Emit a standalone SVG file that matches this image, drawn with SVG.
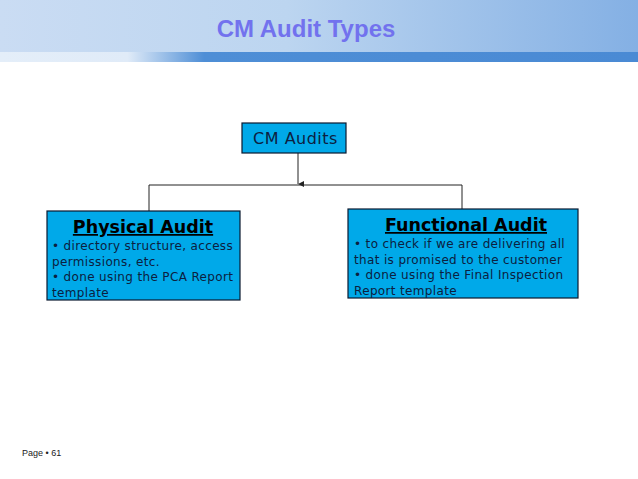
<svg xmlns="http://www.w3.org/2000/svg" width="638" height="479" viewBox="0 0 638 479">
<defs>
<linearGradient id="hdr" x1="0" y1="0" x2="1" y2="0">
<stop offset="0" stop-color="#cadcf3"/>
<stop offset="0.45" stop-color="#bcd5f0"/>
<stop offset="1" stop-color="#84b0e4"/>
</linearGradient>
<linearGradient id="band" x1="0" y1="0" x2="1" y2="0">
<stop offset="0" stop-color="#e4eef9"/>
<stop offset="0.2" stop-color="#e0ebf8"/>
<stop offset="0.32" stop-color="#4e8ed6"/>
<stop offset="1" stop-color="#4a8ad4"/>
</linearGradient>
<marker id="ah" markerWidth="8" markerHeight="8" refX="4" refY="7" orient="auto" markerUnits="userSpaceOnUse">
<path d="M1,1 L7,1 L4,7 Z" fill="#222"/>
</marker>
<style>
.box{fill:#00a9e9;stroke:#0a1a30;stroke-width:1.2}
.t{font-family:"DejaVu Sans",Verdana,sans-serif;fill:#0c2040}
.h{font-family:"DejaVu Sans",Verdana,sans-serif;font-weight:bold;font-size:17.5px;fill:#000;text-decoration:underline;text-anchor:middle}
.b{font-size:12px;letter-spacing:0.35px}
.ln{stroke:#222;stroke-width:1;fill:none}
</style>
</defs>
<rect x="0" y="0" width="638" height="479" fill="#fff"/>
<rect x="0" y="0" width="638" height="52" fill="url(#hdr)"/>
<rect x="0" y="52" width="638" height="10" fill="url(#band)"/>
<text x="306" y="37" text-anchor="middle" font-family="Liberation Sans, Arial, sans-serif" font-weight="bold" font-size="24" fill="#7272ee">CM Audit Types</text>
<g id="connectors">
<line class="ln" x1="298" y1="153" x2="298" y2="184" marker-end="url(#ah)"/>
<polyline class="ln" points="149,211 149,185 462,185 462,209"/>
</g>
<g id="cm-audits">
<rect class="box" x="242" y="123" width="104" height="30"/>
<text class="t" x="295.5" y="144" text-anchor="middle" font-size="16" letter-spacing="0.5">CM Audits</text>
</g>
<g id="physical-audit">
<rect class="box" x="47" y="211" width="193" height="89"/>
<text class="h" x="143" y="233">Physical Audit</text>
<text class="t b" x="52" y="250">• directory structure, access</text>
<text class="t b" x="52" y="265.5">permissions, etc.</text>
<text class="t b" x="52" y="281">• done using the PCA Report</text>
<text class="t b" x="52" y="296.5">template</text>
</g>
<g id="functional-audit">
<rect class="box" x="348" y="209" width="230" height="89"/>
<text class="h" x="466" y="231">Functional Audit</text>
<text class="t b" x="354" y="248">• to check if we are delivering all</text>
<text class="t b" x="354" y="263.5">that is promised to the customer</text>
<text class="t b" x="354" y="279">• done using the Final Inspection</text>
<text class="t b" x="354" y="294.5">Report template</text>
</g>
<text x="22" y="456" font-family="Liberation Sans, Arial, sans-serif" font-size="9" fill="#222">Page • 61</text>
</svg>
